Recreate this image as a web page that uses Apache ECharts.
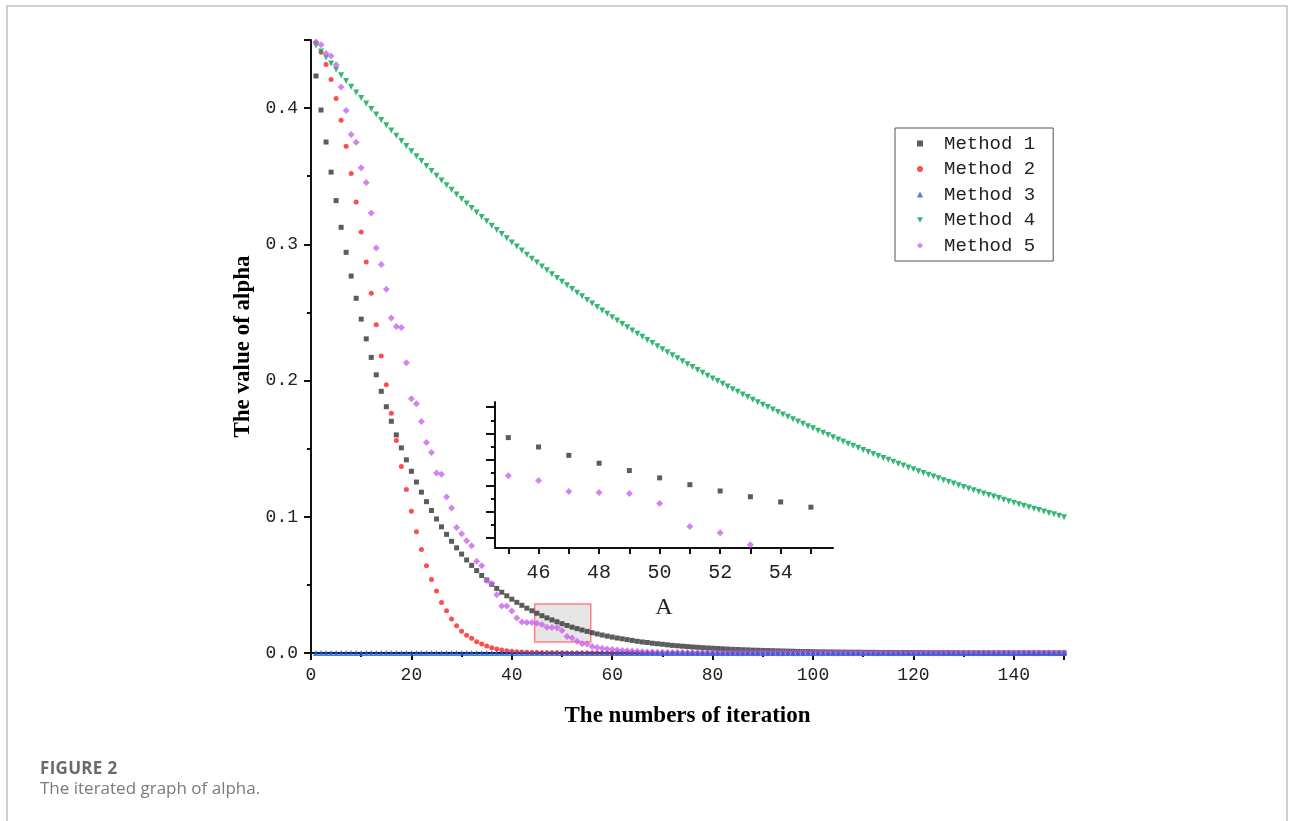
<!DOCTYPE html>
<html>
<head>
<meta charset="utf-8">
<script src="https://cdn.jsdelivr.net/npm/echarts@6/dist/echarts.min.js"></script>
<style>
  html, body { margin: 0; padding: 0; background: #fff; }
  #frame { position: absolute; left: 6px; top: 5px; width: 1282px; height: 840px; border: 2px solid #cfcfcf; box-sizing: border-box; }
  #chart { position: absolute; left: 0; top: 0; width: 1293px; height: 821px; }
  .cap1 { position: absolute; left: 40px; top: 756px; font: bold 17px 'Open Sans', 'Noto Sans', sans-serif; color: #6b6b6b; letter-spacing: 0.3px; }
  .cap2 { position: absolute; left: 40px; top: 776px; font: 17px 'Open Sans', 'Noto Sans', sans-serif; color: #7a7a7a; }
</style>
</head>
<body>
<div id="frame"></div>
<div id="chart"></div>
<div class="cap1">FIGURE 2</div>
<div class="cap2">The iterated graph of alpha.</div>
<script>
// iteration index 1..150
const iterations = Array.from({ length: 150 }, (_, i) => i + 1);

const method1 = [
  0.4236,0.3986,0.3751,0.3530,0.3321,0.3125,0.2941,0.2767,0.2604,0.2451,
  0.2306,0.2170,0.2042,0.1921,0.1808,0.1701,0.1601,0.1506,0.1418,0.1334,
  0.1255,0.1181,0.1111,0.1046,0.0984,0.0926,0.0871,0.0820,0.0772,0.0726,
  0.0683,0.0643,0.0605,0.0569,0.0536,0.0504,0.0474,0.0446,0.0420,0.0395,
  0.0372,0.0350,0.0329,0.0310,0.0292,0.0274,0.0258,0.0243,0.0229,0.0215,
  0.0202,0.0190,0.0179,0.0169,0.0159,0.0149,0.0140,0.0132,0.0124,0.0117,
  0.0110,0.0104,0.0098,0.0092,0.0086,0.0081,0.0077,0.0072,0.0068,0.0064,
  0.0060,0.0056,0.0053,0.0050,0.0047,0.0044,0.0042,0.0039,0.0037,0.0035,
  0.0033,0.0031,0.0029,0.0027,0.0026,0.0024,0.0023,0.0021,0.0020,0.0019,
  0.0018,0.0017,0.0016,0.0015,0.0014,0.0013,0.0012,0.0011,0.0011,0.0010,
  0.0009,0.0009,0.0008,0.0008,0.0007,0.0007,0.0006,0.0006,0.0006,0.0005,
  0.0005,0.0005,0.0004,0.0004,0.0004,0.0004,0.0003,0.0003,0.0003,0.0003,
  0.0003,0.0002,0.0002,0.0002,0.0002,0.0002,0.0002,0.0002,0.0001,0.0001,
  0.0001,0.0001,0.0001,0.0001,0.0001,0.0001,0.0001,0.0001,0.0001,0.0001,
  0.0001,0.0001,0.0001,0.0001,0.0001,0.0001,0.0001,0.0001,0.0001,0.0001
];

const method2 = [
  0.448,0.441,0.432,0.421,0.407,0.391,0.372,0.352,0.331,0.309,
  0.287,0.264,0.241,0.218,0.197,0.176,0.156,0.137,0.120,0.104,
  0.089,0.076,0.064,0.054,0.0455,0.037,0.031,0.025,0.020,0.016,
  0.013,0.0108,0.0083,0.0066,0.0051,0.0039,0.0030,0.0022,0.0016,0.0012,
  0.0009,0.0007,0.0005,0.0004,0.0003,0.0002,0.0002,0.0001,0.0001,0.0001,
  0,0,0,0,0,0,0,0,0,0, 0,0,0,0,0,0,0,0,0,0,
  0,0,0,0,0,0,0,0,0,0, 0,0,0,0,0,0,0,0,0,0,
  0,0,0,0,0,0,0,0,0,0, 0,0,0,0,0,0,0,0,0,0,
  0,0,0,0,0,0,0,0,0,0, 0,0,0,0,0,0,0,0,0,0,
  0,0,0,0,0,0,0,0,0,0, 0,0,0,0,0,0,0,0,0,0
];

const method3 = [
  0,0,0,0,0,0,0,0,0,0, 0,0,0,0,0,0,0,0,0,0,
  0,0,0,0,0,0,0,0,0,0, 0,0,0,0,0,0,0,0,0,0,
  0,0,0,0,0,0,0,0,0,0, 0,0,0,0,0,0,0,0,0,0,
  0,0,0,0,0,0,0,0,0,0, 0,0,0,0,0,0,0,0,0,0,
  0,0,0,0,0,0,0,0,0,0, 0,0,0,0,0,0,0,0,0,0,
  0,0,0,0,0,0,0,0,0,0, 0,0,0,0,0,0,0,0,0,0,
  0,0,0,0,0,0,0,0,0,0, 0,0,0,0,0,0,0,0,0,0,
  0,0,0,0,0,0,0,0,0,0
];

const method4 = [
  0.4460,0.4415,0.4371,0.4327,0.4284,0.4241,0.4199,0.4157,0.4115,0.4074,
  0.4033,0.3993,0.3953,0.3913,0.3874,0.3835,0.3797,0.3759,0.3721,0.3684,
  0.3647,0.3611,0.3575,0.3539,0.3504,0.3469,0.3434,0.3400,0.3366,0.3332,
  0.3299,0.3266,0.3233,0.3201,0.3169,0.3137,0.3106,0.3075,0.3044,0.3014,
  0.2984,0.2954,0.2924,0.2895,0.2866,0.2837,0.2809,0.2781,0.2753,0.2726,
  0.2699,0.2672,0.2645,0.2618,0.2592,0.2566,0.2540,0.2515,0.2490,0.2465,
  0.2440,0.2416,0.2392,0.2368,0.2344,0.2321,0.2298,0.2275,0.2252,0.2229,
  0.2207,0.2185,0.2163,0.2141,0.2120,0.2099,0.2078,0.2057,0.2036,0.2016,
  0.1996,0.1976,0.1956,0.1936,0.1917,0.1898,0.1879,0.1860,0.1841,0.1823,
  0.1805,0.1787,0.1769,0.1751,0.1734,0.1716,0.1699,0.1682,0.1665,0.1649,
  0.1632,0.1616,0.1600,0.1584,0.1568,0.1552,0.1537,0.1521,0.1506,0.1491,
  0.1476,0.1461,0.1447,0.1432,0.1418,0.1404,0.1390,0.1376,0.1362,0.1348,
  0.1335,0.1322,0.1308,0.1295,0.1282,0.1269,0.1257,0.1244,0.1232,0.1219,
  0.1207,0.1195,0.1183,0.1171,0.1160,0.1148,0.1137,0.1125,0.1114,0.1103,
  0.1092,0.1081,0.1070,0.1059,0.1049,0.1038,0.1028,0.1018,0.1007,0.0997
];

const method5 = [
  0.4485,0.4466,0.4400,0.4383,0.4319,0.4155,0.3982,0.3806,0.3749,0.3563,
  0.3453,0.3230,0.2974,0.2852,0.2671,0.2460,0.2397,0.2390,0.2130,0.1866,
  0.1829,0.1700,0.1546,0.1472,0.1321,0.1313,0.1145,0.1064,0.0922,0.0875,
  0.0824,0.0787,0.0673,0.0641,0.0533,0.0511,0.0428,0.0345,0.0345,0.0308,
  0.0257,0.0227,0.0223,0.0223,0.0219,0.0210,0.0189,0.0187,0.0185,0.0166,
  0.0122,0.0110,0.0087,0.0068,0.0066,0.0047,0.0040,0.0035,0.0030,0.0026,
  0.0022,0.0019,0.0016,0.0014,0.0012,0.0010,0.0008,0.0007,0.0006,0.0005,
  0.0004,0.0004,0.0003,0.0003,0.0002,0.0002,0.0002,0.0001,0.0001,0.0001,
  0,0,0,0,0,0,0,0,0,0, 0,0,0,0,0,0,0,0,0,0,
  0,0,0,0,0,0,0,0,0,0, 0,0,0,0,0,0,0,0,0,0,
  0,0,0,0,0,0,0,0,0,0, 0,0,0,0,0,0,0,0,0,0,
  0,0,0,0,0,0,0,0,0,0
];

const methodNames = ['Method 1', 'Method 2', 'Method 3', 'Method 4', 'Method 5'];
const xTicks = [0, 20, 40, 60, 80, 100, 120, 140];
const insetXTicks = [45, 46, 47, 48, 49, 50, 51, 52, 53, 54, 55];
const insetXLabels = [46, 48, 50, 52, 54];
const insetYMajor = [0.01, 0.015, 0.02, 0.025, 0.03, 0.035];
const insetYMinor = [0.0125, 0.0175, 0.0225, 0.0275, 0.0325];
const zoomBox = { x: [44.56, 55.73], y: [0.0081, 0.036] };

const pairs = vals => iterations.map((it, i) => [it, vals[i]]);

const tickFont = { fontFamily: 'Liberation Mono', fontSize: 18, color: '#222' };
const black = '#111';

const styles = [
  { symbol: 'rect', symbolSize: 5, color: '#333333', icon: 'rect' },
  { symbol: 'circle', symbolSize: 5, color: '#ff2020', icon: 'circle' },
  { symbol: 'triangle', symbolSize: 6, color: '#1a5fe0', icon: 'triangle' },
  { symbol: 'triangle', symbolSize: 6, color: '#00a550', symbolRotate: 180, icon: 'path://M0,0L10,0L5,9Z' },
  { symbol: 'diamond', symbolSize: 7, color: '#c864ee', icon: 'diamond' },
];
const allData = [method1, method2, method3, method4, method5];

const chart = echarts.init(document.getElementById('chart'));

const mainSeries = allData.map((vals, i) => ({
  name: methodNames[i],
  type: 'scatter',
  xAxisIndex: 0, yAxisIndex: 0,
  data: pairs(vals),
  symbol: styles[i].symbol,
  symbolSize: styles[i].symbolSize,
  symbolRotate: styles[i].symbolRotate || 0,
  itemStyle: { color: styles[i].color },
  z: i === 2 ? 4 : 3,
}));

chart.setOption({
  animation: false,
  legend: {
    data: methodNames.map((n, i) => ({ name: n, icon: styles[i].icon })),
    orient: 'vertical',
    left: 895, top: 128,
    padding: [6, 18, 6, 22],
    itemWidth: 6, itemHeight: 6,
    itemGap: 6.5,
    borderColor: '#555', borderWidth: 1,
    textStyle: { fontFamily: 'Liberation Mono', fontSize: 19, color: '#222', lineHeight: 19, padding: [0, 0, 0, 16] },
  },
  grid: [
    { left: 311, top: 40, width: 753, height: 613 },
    { left: 495, top: 402, width: 338, height: 146 },
  ],
  xAxis: [
    {
      type: 'value', gridIndex: 0, min: 0, max: 150, interval: 20,
      name: 'The numbers of iteration', nameLocation: 'middle', nameGap: 52,
      nameTextStyle: { fontFamily: 'Liberation Serif', fontWeight: 'bold', fontSize: 23, color: '#000' },
      axisLine: { onZero: false, lineStyle: { color: black, width: 2 } },
      axisTick: { length: 7, lineStyle: { color: black, width: 2 } },
      minorTick: { show: true, splitNumber: 2, length: 4, lineStyle: { color: black, width: 2 } },
      splitLine: { show: false },
      axisLabel: Object.assign({ margin: 13, formatter: v => (xTicks.includes(v) ? String(v) : '') }, tickFont),
    },
    {
      type: 'value', gridIndex: 1, min: zoomBox.x[0], max: zoomBox.x[1],
      name: 'A', nameLocation: 'middle', nameGap: 48,
      nameTextStyle: { fontFamily: 'Liberation Serif', fontSize: 24, color: '#222' },
      axisLine: { onZero: false, lineStyle: { color: black, width: 2 } },
      axisTick: { customValues: insetXTicks, length: 6, lineStyle: { color: black, width: 2 } },
      splitLine: { show: false },
      axisLabel: Object.assign({ customValues: insetXLabels, margin: 15 }, tickFont, { fontSize: 20 }),
    },
  ],
  yAxis: [
    {
      type: 'value', gridIndex: 0, min: 0, max: 0.45, interval: 0.1,
      name: 'The value of alpha', nameLocation: 'middle', nameGap: 55,
      nameTextStyle: { fontFamily: 'Liberation Serif', fontWeight: 'bold', fontSize: 23, color: '#000' },
      axisLine: { onZero: false, lineStyle: { color: black, width: 2 } },
      axisTick: { length: 7, lineStyle: { color: black, width: 2 } },
      minorTick: { show: true, splitNumber: 2, length: 4, lineStyle: { color: black, width: 2 } },
      splitLine: { show: false },
      axisLabel: Object.assign({ margin: 13, formatter: v => (Math.abs(v - 0.45) < 1e-9 ? '' : v.toFixed(1)) }, tickFont),
    },
    {
      type: 'value', gridIndex: 1, min: zoomBox.y[0], max: zoomBox.y[1],
      axisLine: { onZero: false, lineStyle: { color: black, width: 2 } },
      axisTick: { customValues: insetYMajor, length: 9, lineStyle: { color: black, width: 2 } },
      splitLine: { show: false },
      axisLabel: { show: false },
    },
    {
      type: 'value', gridIndex: 1, min: zoomBox.y[0], max: zoomBox.y[1], position: 'left',
      axisLine: { show: false },
      axisTick: { customValues: insetYMinor, length: 4, lineStyle: { color: black, width: 2 } },
      splitLine: { show: false },
      axisLabel: { show: false },
    },
  ],
  series: mainSeries.concat([
    {
      name: 'zoom', type: 'scatter', xAxisIndex: 0, yAxisIndex: 0, data: [], z: 10,
      markArea: {
        silent: true,
        itemStyle: { color: 'rgba(200,200,200,0.45)', borderColor: '#ff8080', borderWidth: 1.5 },
        data: [[{ coord: [zoomBox.x[0], zoomBox.y[0]] }, { coord: [zoomBox.x[1], zoomBox.y[1]] }]],
      },
    },
    {
      name: 'Method 1', type: 'scatter', xAxisIndex: 1, yAxisIndex: 1,
      data: pairs(method1), symbol: 'rect', symbolSize: 5, itemStyle: { color: '#333333' },
    },
    {
      name: 'Method 5', type: 'scatter', xAxisIndex: 1, yAxisIndex: 1,
      data: pairs(method5), symbol: 'diamond', symbolSize: 7, itemStyle: { color: '#c864ee' },
    },
  ]),
});
</script>
</body>
</html>
